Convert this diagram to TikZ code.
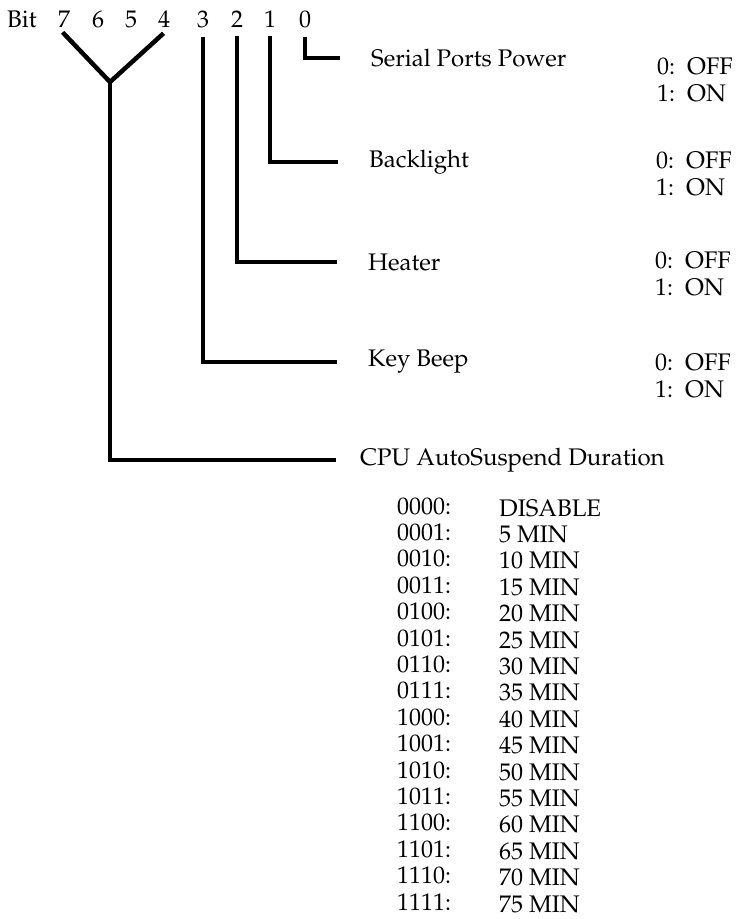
\documentclass[tikz,border=0pt]{standalone}
\usepackage[T1]{fontenc}
\usepackage{mathpazo}
\usetikzlibrary{positioning}

\begin{document}
\begin{tikzpicture}[
  x=1pt, y=-1pt,
  txt/.style={inner sep=0pt, font=\fontsize{24}{27}\selectfont},
  bit/.style={txt, anchor=base},
  field/.style={txt, anchor=west},
  state/.style={txt, anchor=west, align=left},
  wire/.style={line width=4.5pt, shorten <=9pt, shorten >=31pt}
]
  \useasboundingbox (0,0) rectangle (742,919);

  % bit numbers
  \node[txt, anchor=base west] (bitlbl) at (7,27) {Bit};
  \foreach \b/\x in {7/64, 6/98, 5/131, 4/164, 3/203, 2/237, 1/270, 0/305}
    \node[bit] (b\b) at (\x,27) {\b};
  \coordinate (y0) at (110,82);

  % fields
  \node[field] (sp)  at (371,58)  {Serial Ports Power};
  \node[field] (bl)  at (369,162) {Backlight};
  \node[field] (ht)  at (368,262) {Heater};
  \node[field] (kb)  at (368,362) {Key Beep};
  \node[field] (cpu) at (360,460) {CPU AutoSuspend Duration};

  \node[state] (spv) at (657,80)  {0:\enspace OFF\\1:\enspace ON};
  \node[state] (blv) at (656,174) {0:\enspace OFF\\1:\enspace ON};
  \node[state] (htv) at (655,274) {0:\enspace OFF\\1:\enspace ON};
  \node[state] (kbv) at (655,376) {0:\enspace OFF\\1:\enspace ON};

  % lines
  \draw[wire] (b0.south) |- (sp.west);
  \draw[wire] (b1.south) |- (bl.west);
  \draw[wire] (b2.south) |- (ht.west);
  \draw[wire] (b3.south) |- (kb.west);
  \draw[wire, shorten <=7pt, shorten >=9pt] (b7.south west) -- (y0) -- (b4.south east);
  \draw[wire, shorten <=0pt, shorten >=24pt] (y0) |- (cpu.west);

  % duration table
  \foreach \code/\dur [count=\i from 0] in {0000/DISABLE, 0001/5 MIN, 0010/10 MIN,
      0011/15 MIN, 0100/20 MIN, 0101/25 MIN, 0110/30 MIN, 0111/35 MIN,
      1000/40 MIN, 1001/45 MIN, 1010/50 MIN, 1011/55 MIN, 1100/60 MIN,
      1101/65 MIN, 1110/70 MIN, 1111/75 MIN} {
    \node[field] (code\i) at (397,506+26.4*\i) {\code:};
    \node[field] (dur\i) at (499,508+26.4*\i) {\dur};
  }
\end{tikzpicture}
\end{document}
